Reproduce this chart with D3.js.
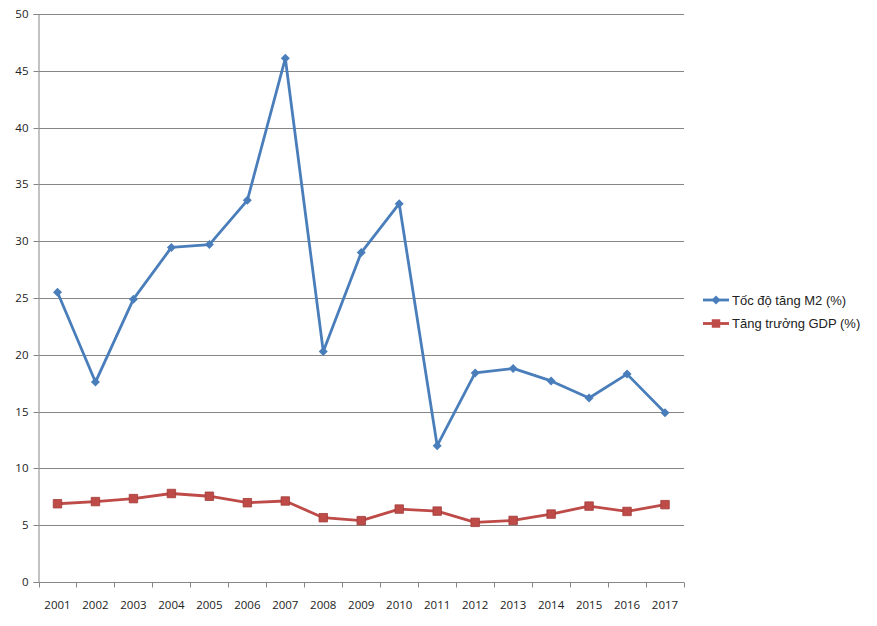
<!DOCTYPE html>
<html>
<head>
<meta charset="utf-8">
<script src="https://cdn.jsdelivr.net/npm/d3@7"></script>
<style>
body { margin: 0; background: #fff; }
text { font-family: "Open Sans", "DejaVu Sans", sans-serif; }
</style>
</head>
<body>
<script>
// chart data
var years = ["2001","2002","2003","2004","2005","2006","2007","2008","2009","2010","2011","2012","2013","2014","2015","2016","2017"];
var m2Growth = [25.5, 17.6, 24.9, 29.45, 29.7, 33.6, 46.1, 20.3, 29.0, 33.3, 12.0, 18.4, 18.8, 17.7, 16.2, 18.3, 14.9];
var gdpGrowth = [6.89, 7.08, 7.34, 7.79, 7.55, 6.98, 7.13, 5.66, 5.4, 6.42, 6.24, 5.25, 5.42, 5.98, 6.68, 6.21, 6.81];
var yTicks = [0, 5, 10, 15, 20, 25, 30, 35, 40, 45, 50];
var seriesNames = ["Tốc độ tăng M2 (%)", "Tăng trưởng GDP (%)"];
var seriesColors = ["#4A7EBB", "#BE4B48"];

var W = 877, H = 626;
var plot = { left: 38.5, right: 684, top: 14, bottom: 582 };

var svg = d3.select("body").append("svg")
	.attr("width", W)
	.attr("height", H);

var x = d3.scaleBand().domain(years).range([plot.left, plot.right]);
var y = d3.scaleLinear().domain([0, 50]).range([plot.bottom, plot.top]);

// grid lines
svg.append("g").selectAll("line").data(yTicks.slice(1)).enter().append("line")
	.attr("x1", plot.left).attr("x2", plot.right)
	.attr("y1", function (d) { return Math.round(y(d)) + 0.5; })
	.attr("y2", function (d) { return Math.round(y(d)) + 0.5; })
	.attr("stroke", "#868686").attr("stroke-width", 1);

// y axis
var yAxis = svg.append("g")
	.attr("transform", "translate(" + plot.left + ",0)")
	.call(d3.axisLeft(y).tickValues(yTicks).tickSize(5).tickPadding(5));
yAxis.select(".domain").attr("stroke", "#868686");
yAxis.selectAll(".tick line").attr("stroke", "#868686");
yAxis.selectAll(".tick text").attr("font-size", 11.5).attr("fill", "#222")
	.style("font-family", "'Open Sans', sans-serif");
yAxis.selectAll(".tick").attr("transform", function (d) { return "translate(0," + (Math.round(y(d)) + 0.5) + ")"; });

// x axis: ticks on category boundaries
var xg = svg.append("g").attr("transform", "translate(0," + (plot.bottom + 0.5) + ")");
xg.append("line").attr("x1", plot.left).attr("x2", plot.right).attr("stroke", "#868686");
xg.selectAll("line.tk").data(years.concat(["end"])).enter().append("line")
	.attr("class", "tk")
	.attr("x1", function (d, i) { return Math.round(plot.left + i * x.bandwidth()) + 0.5; })
	.attr("x2", function (d, i) { return Math.round(plot.left + i * x.bandwidth()) + 0.5; })
	.attr("y1", 0).attr("y2", 5)
	.attr("stroke", "#868686");
xg.selectAll("text").data(years).enter().append("text")
	.attr("x", function (d) { return x(d) + x.bandwidth() / 2; })
	.attr("y", 26)
	.attr("text-anchor", "middle")
	.attr("font-size", 11.5)
	.attr("fill", "#222")
	.text(function (d) { return d; });

var line = d3.line()
	.x(function (d, i) { return x(years[i]) + x.bandwidth() / 2; })
	.y(function (d) { return y(d); });

// excel style diamond: square turned 45deg
var diamond = "M0,-4.5L4.5,0L0,4.5L-4.5,0Z";
var square = d3.symbol().type(d3.symbolSquare).size(72)();

// M2 series
svg.append("path").datum(m2Growth)
	.attr("d", line).attr("fill", "none")
	.attr("stroke", seriesColors[0]).attr("stroke-width", 2.8)
	.attr("stroke-linejoin", "round");
svg.append("g").selectAll("path").data(m2Growth).enter().append("path")
	.attr("d", diamond)
	.attr("transform", function (d, i) { return "translate(" + (x(years[i]) + x.bandwidth() / 2) + "," + y(d) + ")"; })
	.attr("fill", seriesColors[0]);

// GDP series
svg.append("path").datum(gdpGrowth)
	.attr("d", line).attr("fill", "none")
	.attr("stroke", seriesColors[1]).attr("stroke-width", 2.8)
	.attr("stroke-linejoin", "round");
svg.append("g").selectAll("path").data(gdpGrowth).enter().append("path")
	.attr("d", square)
	.attr("transform", function (d, i) { return "translate(" + (x(years[i]) + x.bandwidth() / 2) + "," + y(d) + ")"; })
	.attr("fill", seriesColors[1]).attr("stroke", "#A13C39").attr("stroke-width", 0.8);

// legend
var legend = svg.append("g").attr("transform", "translate(703,300)");
seriesNames.forEach(function (name, i) {
	var g = legend.append("g").attr("transform", "translate(0," + (i * 23.5) + ")");
	g.append("line").attr("x1", 0).attr("x2", 26).attr("stroke", seriesColors[i]).attr("stroke-width", 2.8);
	g.append("path").attr("d", i === 0 ? diamond : square)
		.attr("transform", "translate(13,0)")
		.attr("fill", seriesColors[i]);
	g.append("text").attr("x", 29).attr("y", 4.5)
		.attr("font-size", 13).attr("fill", "#222")
		.style("font-family", "'Liberation Sans', Arial, sans-serif")
		.text(name);
});
</script>
</body>
</html>
